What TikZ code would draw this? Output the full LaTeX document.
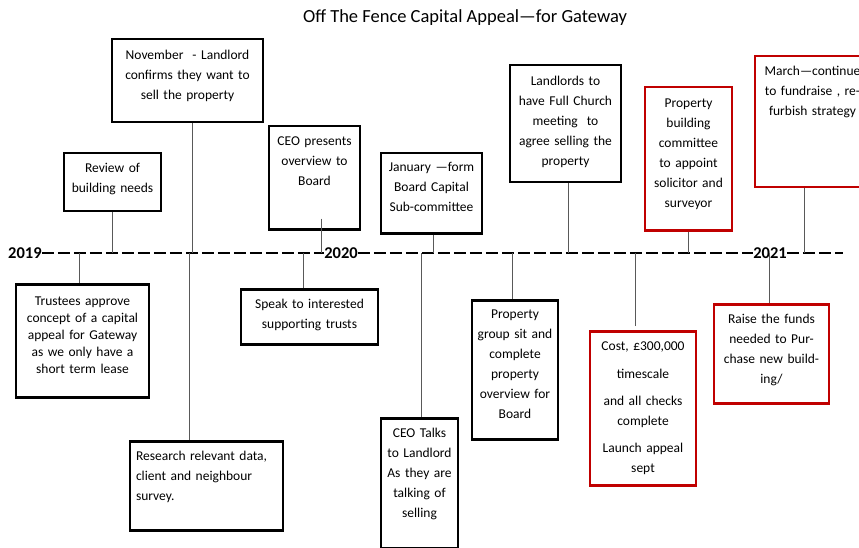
\documentclass[tikz,border=0pt]{standalone}
\usepackage{fontspec}
\setmainfont{Carlito}
\definecolor{boxred}{RGB}{192,0,0}
\tikzset{
  box/.style={draw, line width=2.5pt, anchor=north, align=center, inner xsep=3pt, inner ysep=4pt, text height=10pt, font=\fontsize{13.5}{20}\selectfont},
  redbox/.style={box, draw=boxred},
  conn/.style={draw=black!65, line width=0.8pt},
  timeline/.style={line width=1.6pt, dash pattern=on 12pt off 4pt},
  year/.style={font=\bfseries\fontsize{16.5}{18}\selectfont, inner sep=0pt}
}
\begin{document}
\begin{tikzpicture}[x=1pt,y=-1pt]
        \clip (0,0) rectangle (859,548);
        \node (title) [font=\fontsize{18.5}{20}\selectfont] at (465,18) {Off The Fence Capital Appeal—for Gateway};
        % years on the time line
        \node (y19) [year, anchor=west] at (8,253) {2019};
        \node (y20) [year] at (341,253) {2020};
        \node (y21) [year] at (770,253) {2021};
        \coordinate (tend) at (843,253);
        \draw[line width=1.6pt] (y19.east) -- ++(12,0);
        \draw[timeline] (y19.east) -- (y20.west);
        \draw[timeline] (y20.east) -- (y21.west);
        \draw[timeline] (y21.east) -- (tend);
        % boxes above the line
        \node (rev) [box, minimum width=97pt, minimum height=58pt, text width=89pt, text depth=30pt] at (112.5,152) {Review of\\building needs};
        \node (nov) [box, minimum width=151pt, minimum height=83pt, text width=143pt, text depth=53pt] at (187.5,38) {November\ \ - Landlord\\confirms they want to\\sell the property};
        \node (ceop) [box, minimum width=91pt, minimum height=103pt, text width=83pt, text depth=75pt] at (314.5,125) {CEO presents\\overview to\\Board};
        \node (jan) [box, minimum width=101pt, minimum height=80pt, text width=93pt, text depth=54pt] at (431.5,152) {January —form\\Board Capital\\Sub-committee};
        \node (land) [box, minimum width=111pt, minimum height=117pt, text width=103pt, text depth=87pt] at (565.5,64) {Landlords to\\have Full Church\\meeting\ \ to\\agree selling the\\property};
        \node (pbc) [redbox, minimum width=87pt, minimum height=143pt, text width=79pt, text depth=113pt] at (688.5,86) {Property\\building\\committee\\to appoint\\solicitor and\\surveyor};
        \node (mar) [redbox, minimum width=115pt, minimum height=131pt, text width=107pt, text depth=103pt] at (812.5,55) {March—continue\\to fundraise , re-\\furbish strategy};
        % boxes below the line
        \node (tru) [box, minimum width=133pt, minimum height=113pt, text width=125pt, text depth=81pt, font=\fontsize{13.5}{17}\selectfont] at (82.5,283) {Trustees approve\\concept of a capital\\appeal for Gateway\\as we only have a\\short term lease};
        \node (res) [box, align=left, inner xsep=5pt, minimum width=153pt, minimum height=89pt, text width=141pt, text depth=61pt] at (206.5,440) {Research relevant data,\\client and neighbour\\survey.};
        \node (spk) [box, minimum width=137pt, minimum height=55pt, text width=129pt, text depth=27pt] at (309.5,288) {Speak to interested\\supporting trusts};
        \node (talk) [box, minimum width=77pt, minimum height=130pt, text width=69pt, text depth=102pt] at (419.5,417) {CEO Talks\\to Landlord\\As they are\\talking of\\selling};
        \node (prop) [box, minimum width=86pt, minimum height=139pt, text width=78pt, text depth=113pt] at (515,299) {Property\\group sit and\\complete\\property\\overview for\\Board};
        \node (cost) [redbox, minimum width=106pt, minimum height=154pt, text width=98pt, text depth=126pt] at (643,330) {Cost, £300,000\\[8pt]timescale\\[7pt]and all checks\\complete\\[7pt]Launch appeal\\sept};
        \node (raise) [redbox, minimum width=115pt, minimum height=99pt, text width=107pt, text depth=71pt] at (771.5,303) {Raise the funds\\needed to Pur-\\chase new build-\\ing/};
        % connectors
        \foreach \n/\x in {rev/112,nov/192,ceop/321,jan/433,land/568,pbc/688,mar/804,tru/79,res/189,spk/303,talk/421,prop/512,cost/635,raise/769}
          \coordinate (k\n) at (\x,253);
        \foreach \n in {rev,nov,jan,land,pbc,mar}
          \draw[conn] (k\n |- \n.south) -- (k\n);
        \foreach \n in {tru,res,spk,talk,prop,raise}
          \draw[conn] (k\n) -- (k\n |- \n.north);
        \draw[conn] (kceop |- ceop.south) ++(0,-12) -- (kceop);
        \draw[conn] (kcost |- cost.north) ++(0,-4) -- (kcost);
    \end{tikzpicture}
\end{document}
